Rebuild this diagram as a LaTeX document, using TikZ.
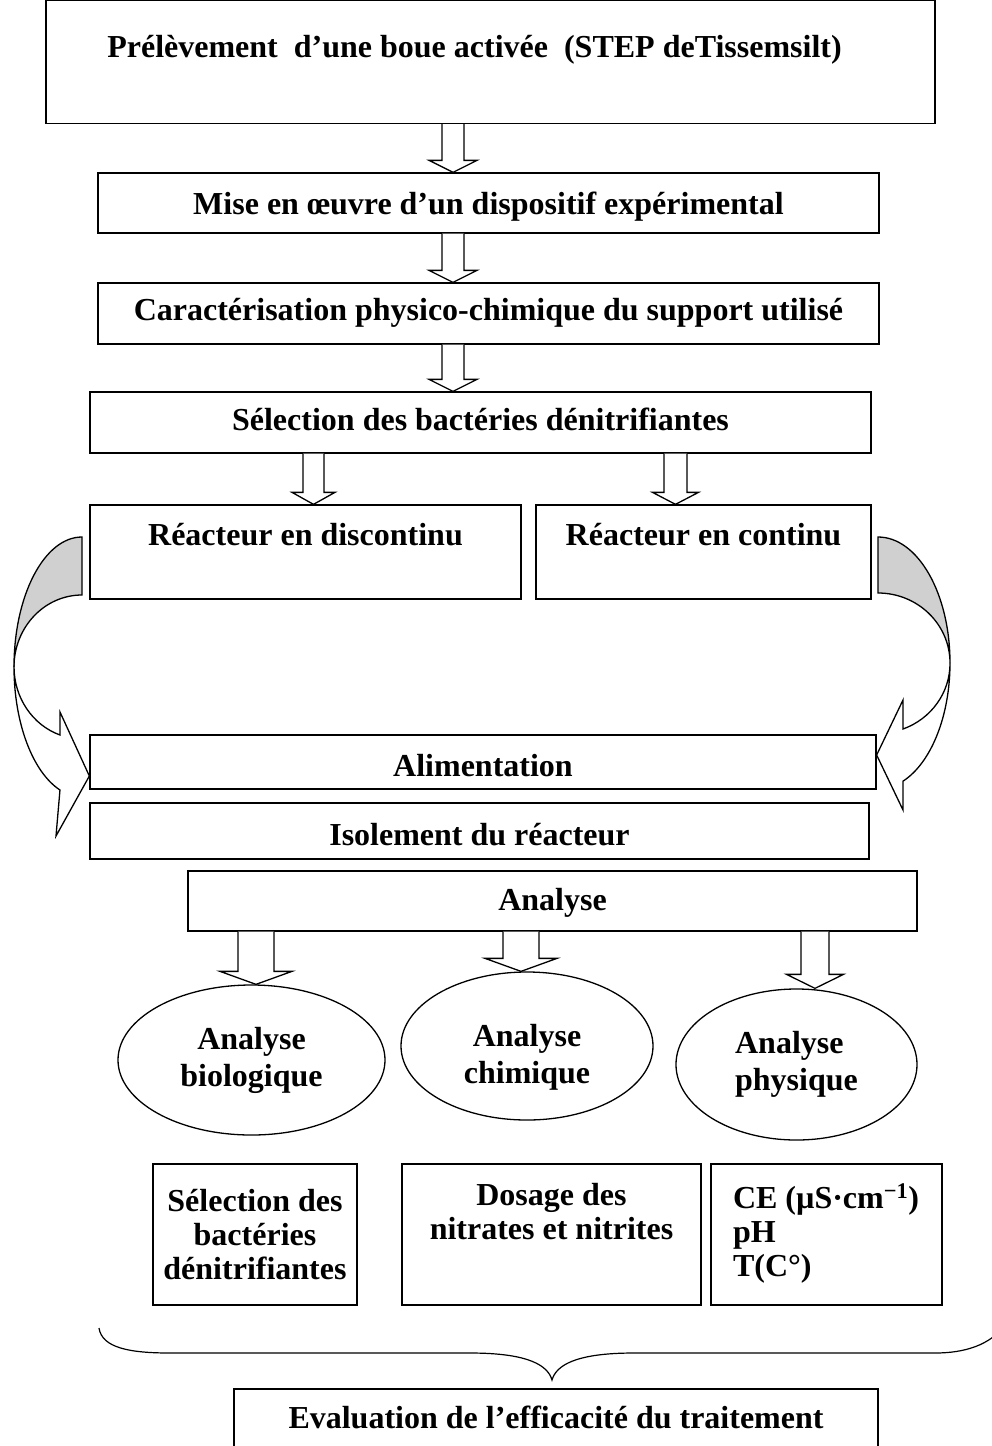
\documentclass[tikz,border=0pt]{standalone}
\usepackage{fontspec}
\setmainfont{Liberation Serif}
\usepackage{tikz}
\usetikzlibrary{shapes}
\usetikzlibrary{calc,positioning}
\tikzstyle{etape}=[shape=rectangle,draw=black,line width=1.3pt,inner sep=0pt,font=\bfseries\fontsize{32}{34}\selectfont]
\tikzstyle{analyse}=[shape=ellipse,draw=black,line width=1.3pt,inner sep=0pt,align=flush center,font=\bfseries\fontsize{32}{37}\selectfont]
\tikzstyle{analysetexte}=[inner sep=0pt,align=flush center,font=\bfseries\fontsize{32}{37}\selectfont]
\tikzstyle{fleche}=[draw=black,line width=1.3pt,fill=white,line join=miter]
\tikzstyle{courbe}=[draw=black,line width=1.3pt,line join=miter]
\tikzstyle{accolade}=[draw=black,line width=1.2pt]
\definecolor{revers}{RGB}{208,208,208}
% block arrow going down: x, from, to, half shaft, half head, head length
\newcommand{\blockdown}[6]{%
  \coordinate (ax) at (#1,0);
  \draw[fleche] ($(ax |- #2.south)+(-#4,0)$) -- ($(ax |- #3.north)+(-#4,-#6)$)
    -- ($(ax |- #3.north)+(-#5,-#6)$) -- (ax |- #3.north)
    -- ($(ax |- #3.north)+(#5,-#6)$) -- ($(ax |- #3.north)+(#4,-#6)$)
    -- ($(ax |- #2.south)+(#4,0)$);}

\begin{document}
\begin{tikzpicture}[x=1pt,y=-1pt]
\useasboundingbox (0,0) rectangle (992,1446);

\node[etape,minimum width=889pt,text height=57pt,text depth=66pt] (prel) at (490.5,62) {Prélèvement\ \ d’une boue activée\ \ (STEP deTissemsilt)\hspace*{32pt}};
\node[etape,minimum width=781pt,text height=41pt,text depth=19pt] (mise) at (488.5,203) {Mise en œuvre d’un dispositif expérimental};
\node[etape,minimum width=781pt,text height=37pt,text depth=24pt] (carac) at (488.5,313.5) {Caractérisation physico-chimique du support utilisé};
\node[etape,minimum width=781pt,text height=38pt,text depth=23pt] (sel) at (480.5,422.5) {Sélection des bactéries dénitrifiantes};

\node[etape,minimum width=431pt,text height=40pt,text depth=54pt] (disc) at (305.5,552) {Réacteur en discontinu};
\node[etape,minimum width=335pt,text height=40pt,text depth=54pt] (cont) at (703.5,552) {Réacteur en continu};

\node[etape,minimum width=786pt,text height=41pt,text depth=13pt] (alim) at (483,762) {Alimentation};
\node[etape,minimum width=779pt,text height=42pt,text depth=14pt] (isol) at (479.5,831) {Isolement du réacteur};
\node[etape,minimum width=729pt,text height=39pt,text depth=21pt] (ana) at (552.5,901) {Analyse};

\node[analyse,minimum width=267pt,minimum height=150pt] (bio) at (251.5,1060) {Analyse\\biologique};
\node[analyse,minimum width=252pt,minimum height=148pt] (chim) at (527,1046) {};
\node[analysetexte] (chimt) at (527,1057) {Analyse\\chimique};
\node[analyse,minimum width=241pt,minimum height=151pt,align=flush left] (phys) at (796.5,1064.5) {Analyse\\physique};

\node[etape,text width=190pt,inner xsep=7pt,align=flush center,text height=47pt,text depth=94pt] (selb) at (255,1234.5) {Sélection des\\bactéries\\dénitrifiantes};
\node[etape,text width=270pt,inner xsep=14.5pt,align=flush center,text height=41pt,text depth=100pt] (dos) at (551.5,1234.5) {Dosage des\\nitrates et nitrites};
\node[etape,text width=187pt,inner xsep=22pt,align=flush left,text height=44pt,text depth=97pt] (ce) at (826.5,1234.5) {\mbox{CE (µS·cm\textsuperscript{−1})}\\pH\\T(C°)};

\node[etape,minimum width=644pt,text height=39pt,text depth=32pt] (eval) at (556,1424.5) {Evaluation de l’efficacité du traitement};

\blockdown{453}{prel}{mise}{11}{24}{12}
\blockdown{453}{mise}{carac}{11}{24}{12}
\blockdown{453}{carac}{sel}{11}{24}{12}
\blockdown{313.5}{sel}{disc}{10.5}{21.5}{12}
\blockdown{675.5}{sel}{cont}{11.5}{23}{12}
\blockdown{256}{ana}{bio}{18}{36}{13}
\blockdown{521}{ana}{chim}{18}{36}{13}
\blockdown{815}{ana}{phys}{14}{28.5}{14}

% curved arrow, left side
\draw[courbe,fill=revers] (82,537) arc[start angle=-90,end angle=-180,x radius=68,y radius=130]
  arc[start angle=180,end angle=270,x radius=68,y radius=72] -- cycle;
\draw[courbe,fill=white] (14,667) arc[start angle=180,end angle=108.9,x radius=68,y radius=130]
  -- (56,836) -- (alim.west |- 0,776) -- (60,712) -- (60,735)
  arc[start angle=108.9,end angle=180,x radius=68,y radius=72] -- cycle;

% curved arrow, right side
\draw[courbe,fill=revers] (878,537) arc[start angle=-90,end angle=0,x radius=72,y radius=126]
  arc[start angle=0,end angle=-90,x radius=72,y radius=70] -- cycle;
\draw[courbe,fill=white] (950,663) arc[start angle=0,end angle=69.7,x radius=72,y radius=126]
  -- (903,810) -- (alim.east |- 0,755) -- (903,700) -- (903,729)
  arc[start angle=69.7,end angle=0,x radius=72,y radius=70] -- cycle;

% brace
\draw[accolade] (99,1328) .. controls (102,1348) and (130,1353) .. (170,1353) -- (470,1353)
  .. controls (530,1353) and (548,1366) .. (552,1380)
  .. controls (556,1366) and (574,1353) .. (634,1353) -- (935,1353)
  .. controls (965,1353) and (990,1345) .. (1005,1325);

\end{tikzpicture}
\end{document}
